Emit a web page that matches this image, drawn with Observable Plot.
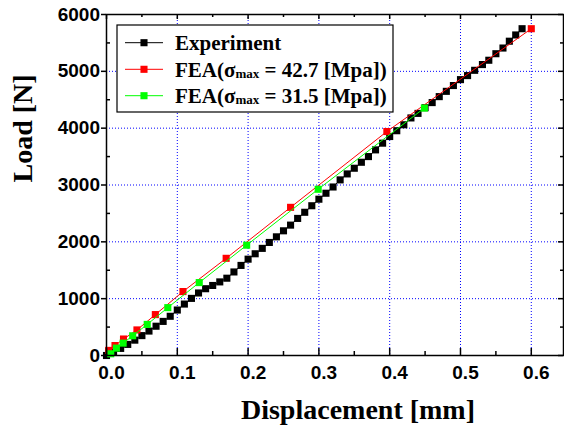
<!DOCTYPE html>
<html><head><meta charset="utf-8">
<script src="https://cdn.jsdelivr.net/npm/d3@7"></script>
<script src="https://cdn.jsdelivr.net/npm/@observablehq/plot@0.6"></script>
<style>
body{margin:0;background:#fff}
#chart svg{display:block}
</style>
</head><body><div id="chart"></div>
<script>
// ---- data ----
const expX = [0, 0.01, 0.02, 0.03, 0.04, 0.05, 0.06, 0.07, 0.08, 0.09, 0.10,
  0.11, 0.12, 0.13, 0.14, 0.15, 0.16, 0.17, 0.18, 0.19, 0.20,
  0.21, 0.22, 0.23, 0.24, 0.25, 0.26, 0.27, 0.28, 0.29, 0.30,
  0.31, 0.32, 0.33, 0.34, 0.35, 0.36, 0.37, 0.38, 0.39, 0.40,
  0.41, 0.42, 0.43, 0.44, 0.45, 0.46, 0.47, 0.48, 0.49, 0.50,
  0.51, 0.52, 0.531, 0.54, 0.55, 0.56, 0.569, 0.578, 0.587];
const expLoad = [0, 60, 125, 195, 270, 350, 430, 515, 600, 690, 800,
  905, 1005, 1100, 1175, 1232, 1295, 1360, 1470, 1585, 1695,
  1790, 1885, 1989, 2088, 2194, 2294, 2412, 2520, 2635, 2750,
  2855, 2965, 3090, 3195, 3295, 3400, 3500, 3618, 3736, 3853,
  3955, 4060, 4180, 4260, 4360, 4450, 4555, 4648, 4750, 4854,
  4925, 5018, 5119, 5195, 5310, 5410, 5530, 5640, 5750];
const fea1X = [0.003, 0.012, 0.024, 0.043, 0.069, 0.108, 0.169, 0.26, 0.396, 0.6];
const fea1Load = [90, 175, 290, 450, 720, 1125, 1710, 2607, 3941, 5750];
const fea2X = [0.006, 0.014, 0.0235, 0.037, 0.0575, 0.0866, 0.131, 0.198, 0.299, 0.449];
const fea2Load = [30, 130, 218, 347, 547, 842, 1283, 1941, 2925, 4354];

const xMajor = [0, 0.1, 0.2, 0.3, 0.4, 0.5, 0.6];
const xMinor = [0.05, 0.15, 0.25, 0.35, 0.45, 0.55];
const yMajor = [0, 1000, 2000, 3000, 4000, 5000, 6000];
const yMinor = [500, 1500, 2500, 3500, 4500, 5500];
const xLabels = ["0.0", "0.1", "0.2", "0.3", "0.4", "0.5", "0.6"];
const yLabels = ["0", "1000", "2000", "3000", "4000", "5000", "6000"];
const seriesNames = ["Experiment", "FEA", "FEA"];
const sigmaValues = ["42.7", "31.5"];
const seriesColors = ["#000000", "#ff0000", "#00ff00"];
const xTitle = "Displacement [mm]";
const yTitle = "Load [N]";

const toRows = (xs, ys) => xs.map((x, i) => ({x, y: ys[i]}));
const expData = toRows(expX, expLoad);
const fea1Data = toRows(fea1X, fea1Load);
const fea2Data = toRows(fea2X, fea2Load);

// ---- layout ----
const W = 564, H = 428, mL = 106, mR = 1, mT = 14, mB = 73;
const pw = W - mL - mR, ph = H - mT - mB;
const tickFont = "'Liberation Sans', Arial, sans-serif";
const serif = "'Liberation Serif', 'Times New Roman', serif";
const R = 4;

const svg = Plot.plot({
  width: W, height: H,
  marginLeft: mL, marginRight: mR, marginTop: mT, marginBottom: mB,
  x: {domain: [0, 0.6455]},
  y: {domain: [0, 6000]},
  style: {background: "white", overflow: "visible"},
  marks: [
    Plot.gridX(xMajor.slice(1), {stroke: "#0000ff", strokeOpacity: 1, strokeWidth: 1, strokeDasharray: "1,2"}),
    Plot.gridY(yMajor.slice(1, -1), {stroke: "#0000ff", strokeOpacity: 1, strokeWidth: 1, strokeDasharray: "1,2"}),
    // data
    Plot.line(expData, {x: "x", y: "y", stroke: seriesColors[0], strokeWidth: 1}),
    Plot.dot(expData, {x: "x", y: "y", symbol: "square", fill: seriesColors[0], r: R}),
    Plot.line(fea1Data, {x: "x", y: "y", stroke: seriesColors[1], strokeWidth: 1}),
    Plot.dot(fea1Data, {x: "x", y: "y", symbol: "square", fill: seriesColors[1], r: R}),
    Plot.line(fea2Data, {x: "x", y: "y", stroke: seriesColors[2], strokeWidth: 1}),
    Plot.dot(fea2Data, {x: "x", y: "y", symbol: "square", fill: seriesColors[2], r: R}),
    // frame
    Plot.frame({stroke: "black", strokeWidth: 1.5}),
    // inward ticks bottom
    Plot.ruleX(xMajor, {insetTop: ph - 7, stroke: "black", strokeWidth: 1.5}),
    Plot.ruleX(xMinor, {insetTop: ph - 4, stroke: "black", strokeWidth: 1.5}),
    // inward ticks top
    Plot.ruleX(xMajor, {insetBottom: ph - 5, stroke: "black", strokeWidth: 1.5}),
    Plot.ruleX(xMinor, {insetBottom: ph - 3, stroke: "black", strokeWidth: 1.5}),
    // left minor inward
    Plot.ruleY(yMinor, {insetRight: pw - 4, stroke: "black", strokeWidth: 1.5}),
    // right ticks inward
    Plot.ruleY(yMajor, {insetLeft: pw - 5, stroke: "black", strokeWidth: 1.5}),
    Plot.ruleY(yMinor, {insetLeft: pw - 3, stroke: "black", strokeWidth: 1.5}),
    // axes
    Plot.axisX(xMajor, {anchor: "bottom", tickSize: 0, tickPadding: 10, dx: 5,
      tickFormat: (d, i) => xLabels[i], label: null,
      fontSize: 19, fontWeight: "bold", fontFamily: tickFont, fill: "black"}),
    Plot.axisY(yMajor, {anchor: "left", tickSize: 5, tickPadding: 1.5, strokeWidth: 1.5, stroke: "black",
      tickFormat: (d, i) => yLabels[i], label: null,
      fontSize: 19, fontWeight: "bold", fontFamily: tickFont, fill: "black"}),
    // axis titles
    Plot.text([xTitle], {frameAnchor: "bottom", lineAnchor: "bottom", dy: 63, dx: 23,
      fontSize: 28, fontWeight: "bold", fontFamily: serif, fill: "black"}),
    Plot.text([yTitle], {frameAnchor: "left", rotate: -90, dx: -83.5, dy: -2.5,
      fontSize: 28, fontWeight: "bold", fontFamily: serif, fill: "black"})
  ]
});

// ---- legend ----
const g = d3.select(svg).append("g").attr("text-anchor", "start");
g.append("rect").attr("x", 117).attr("y", 25).attr("width", 276).attr("height", 87)
  .attr("fill", "white").attr("stroke", "black").attr("stroke-width", 1.2);
const rowY = [42.7, 69.3, 95.7];
const side = R * Math.sqrt(Math.PI);
rowY.forEach((yy, i) => {
  g.append("line").attr("x1", 125).attr("x2", 163).attr("y1", yy).attr("y2", yy)
    .attr("stroke", seriesColors[i]).attr("stroke-width", 1);
  g.append("rect").attr("x", 144 - side / 2).attr("y", yy - side / 2)
    .attr("width", side).attr("height", side).attr("fill", seriesColors[i]);
  const t = g.append("text").attr("x", 175).attr("y", yy + 7.5).attr("text-anchor", "start")
    .attr("font-family", serif).attr("font-weight", "bold").attr("font-size", 21).attr("fill", "black");
  if (i === 0) {
    t.text(seriesNames[0]);
  } else {
    t.append("tspan").text(seriesNames[i] + "(\u03c3");
    t.append("tspan").attr("font-size", 13).attr("dy", 1).text("max");
    t.append("tspan").attr("dy", -1).text(" = " + sigmaValues[i - 1] + " [Mpa])");
  }
});

document.getElementById("chart").appendChild(svg);
</script>
</body></html>
